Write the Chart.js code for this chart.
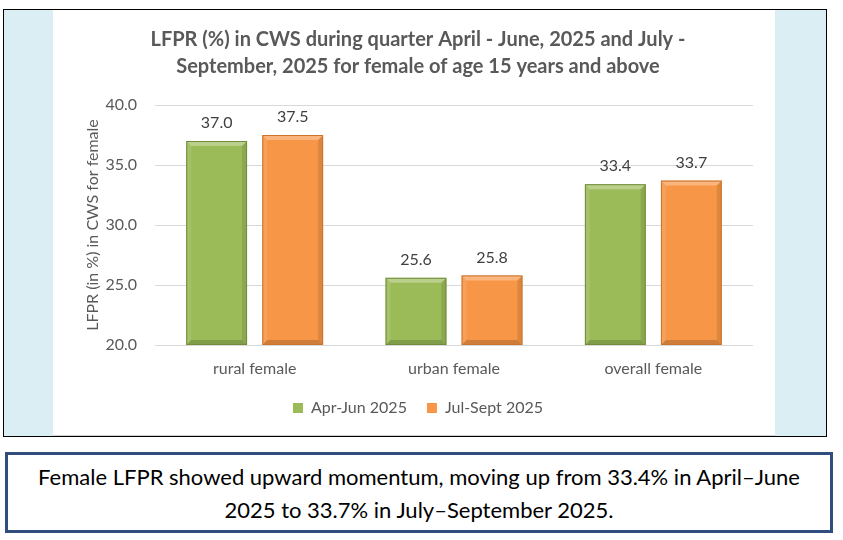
<!DOCTYPE html>
<html>
<head>
<meta charset="utf-8">
<script src="https://cdn.jsdelivr.net/npm/chart.js@4.4.1/dist/chart.umd.min.js"></script>
<style>
  body { margin: 0; width: 843px; height: 540px; background: #fff; position: relative; overflow: hidden; font-family: Lato, "Open Sans", sans-serif; }
  #frame { position: absolute; left: 3px; top: 9px; width: 824px; height: 428px; box-sizing: border-box; border: 1px solid #000; background: #DAEEF3; }
  #panel { position: absolute; left: 49px; top: 0; width: 722px; height: 426px; background: #fff; border-bottom: 1px solid #D0D0D0; box-sizing: border-box; }
  #note { position: absolute; left: 5px; top: 452px; width: 828px; height: 81px; box-sizing: border-box; border: 3px solid #2F4E7E; background: #fff;
          display: flex; align-items: center; justify-content: center; text-align: center; font-size: 22px; line-height: 33px; color: #000; }
</style>
</head>
<body>
<div id="frame"><div id="panel"><canvas id="chart"></canvas></div></div>
<div id="note"><div>Female LFPR showed upward momentum, moving up from 33.4% in April–June<br>2025 to 33.7% in July–September 2025.</div></div>
<script>
// categories, series and ticks
const categories = ['rural female', 'urban female', 'overall female'];
const aprJun2025 = [37.0, 25.6, 33.4];
const julSep2025 = [37.5, 25.8, 33.7];
const seriesNames = ['Apr-Jun 2025', 'Jul-Sept 2025'];
const yTicks = [20, 25, 30, 35, 40];

const gray = '#595959';
const fontFamily = 'Lato, "Open Sans", sans-serif';

// value labels above each bar
const valueLabels = {
  id: 'valueLabels',
  afterDatasetsDraw(chart) {
    const ctx = chart.ctx;
    ctx.save();
    ctx.font = '16px ' + fontFamily;
    ctx.fillStyle = '#404040';
    ctx.textAlign = 'center';
    ctx.textBaseline = 'middle';
    chart.data.datasets.forEach((ds, i) => {
      chart.getDatasetMeta(i).data.forEach((bar, j) => {
        ctx.fillText(ds.data[j].toFixed(1), bar.x, bar.y - 18);
      });
    });
    ctx.restore();
  }
};

// light bevel on the bars, like the office 3D style
const bevel = {
  id: 'bevel',
  afterDatasetsDraw(chart) {
    const ctx = chart.ctx;
    const b = 5;
    chart.data.datasets.forEach((ds, i) => {
      chart.getDatasetMeta(i).data.forEach(bar => {
        const l = bar.x - bar.width / 2, r = bar.x + bar.width / 2;
        const t = bar.y, bt = Math.min(bar.base, chart.chartArea.bottom);
        ctx.save();
        ctx.fillStyle = 'rgba(255,255,255,0.30)';
        ctx.beginPath();
        ctx.moveTo(l, t); ctx.lineTo(r, t); ctx.lineTo(r - b, t + b); ctx.lineTo(l + b, t + b); ctx.closePath();
        ctx.fill();
        ctx.fillStyle = 'rgba(255,255,255,0.10)';
        ctx.beginPath();
        ctx.moveTo(l, t); ctx.lineTo(l + b, t + b); ctx.lineTo(l + b, bt - b); ctx.lineTo(l, bt); ctx.closePath();
        ctx.fill();
        ctx.fillStyle = 'rgba(0,0,0,0.10)';
        ctx.beginPath();
        ctx.moveTo(r, t); ctx.lineTo(r - b, t + b); ctx.lineTo(r - b, bt - b); ctx.lineTo(r, bt); ctx.closePath();
        ctx.fill();
        ctx.fillStyle = 'rgba(0,0,0,0.16)';
        ctx.beginPath();
        ctx.moveTo(l, bt); ctx.lineTo(l + b, bt - b); ctx.lineTo(r - b, bt - b); ctx.lineTo(r, bt); ctx.closePath();
        ctx.fill();
        ctx.strokeStyle = ds.borderColor;
        ctx.lineWidth = 1;
        ctx.strokeRect(l + 0.5, t + 0.5, bar.width - 1, bt - t - 1);
        ctx.restore();
      });
    });
  }
};

new Chart(document.getElementById('chart').getContext('2d'), {
  type: 'bar',
  data: {
    labels: categories,
    datasets: [{
      label: seriesNames[0],
      data: aprJun2025,
      backgroundColor: '#9BBB59',
      borderColor: '#718C3B',
      borderWidth: 0
    }, {
      label: seriesNames[1],
      data: julSep2025,
      backgroundColor: '#F79646',
      borderColor: '#C9752F',
      borderWidth: 0
    }]
  },
  options: {
    responsive: true,
    maintainAspectRatio: false,
    animation: false,
    categoryPercentage: 0.763,
    barPercentage: 0.8,
    layout: { padding: { left: 30, right: 22, top: 0, bottom: 9 } },
    plugins: {
      title: {
        display: true,
        text: ['LFPR (%) in CWS during quarter April - June, 2025 and July -',
               'September, 2025 for female of age 15 years and above'],
        color: gray,
        font: { family: fontFamily, size: 20, weight: 'bold', lineHeight: 1.35 },
        padding: { top: 16.5, bottom: 24.5 }
      },
      legend: {
        position: 'bottom',
        labels: {
          color: gray,
          boxWidth: 10,
          boxHeight: 10,
          padding: 20,
          font: { family: fontFamily, size: 16 }
        }
      },
      tooltip: { enabled: false }
    },
    scales: {
      x: {
        grid: { display: false },
        border: { display: false },
        ticks: { color: gray, font: { family: fontFamily, size: 16 }, padding: 6 },
        afterFit(scale) { scale.height = 35; }
      },
      y: {
        min: yTicks[0],
        max: yTicks[yTicks.length - 1],
        afterBuildTicks(scale) { scale.ticks = yTicks.map(v => ({ value: v })); },
        grid: { color: '#D9D9D9', drawTicks: false },
        border: { display: false },
        ticks: {
          color: gray,
          padding: 18,
          font: { family: fontFamily, size: 16 },
          callback: v => v.toFixed(1)
        },
        title: {
          display: true,
          text: 'LFPR (in %) in CWS for female',
          color: gray,
          padding: 0,
          font: { family: fontFamily, size: 16 }
        },
        afterFit(scale) { scale.width = 72; }
      }
    }
  },
  plugins: [valueLabels, bevel]
});
</script>
</body>
</html>
